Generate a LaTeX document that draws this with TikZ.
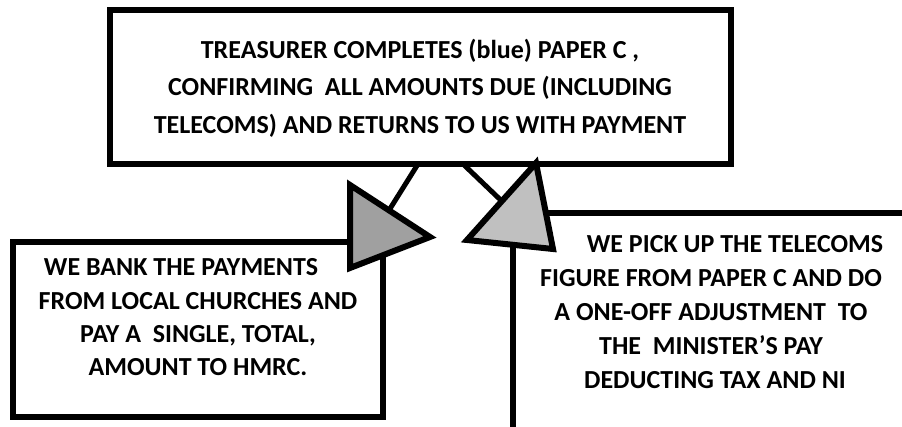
\documentclass[tikz,border=0pt]{standalone}
\usepackage{fontspec}
\setmainfont{Carlito}
\begin{document}
\begin{tikzpicture}[x=1pt,y=-1pt,
  boxline/.style={draw=black, line width=6.5pt, fill=white, inner sep=0pt, rectangle},
  link/.style={draw=black, line width=5pt},
  tri/.style={draw=black, line width=6pt, line join=miter},
  txt/.style={align=center, inner sep=0pt, font=\bfseries\fontsize{26}{#1}\selectfont}]
\useasboundingbox (0,0) rectangle (902,427);
\clip (0,0) rectangle (902,427);
% boxes
\node[boxline, minimum width=621pt, minimum height=154pt] (topbox) at (420.5,87) {};
\node[boxline, minimum width=370pt, minimum height=175pt] (leftbox) at (198,329.5) {};
\node[boxline, minimum width=437pt, minimum height=257pt] (rightbox) at (731.5,341.5) {};
% triangle centres and link ends
\coordinate (lc) at (376.7,230);
\coordinate (rc) at (518.7,217.3);
\coordinate (l0) at (418,164);
\coordinate (r0) at (463,164);
\draw[link] (l0) -- (lc);
\draw[link] (r0) -- (rc);
% triangles
\filldraw[tri, fill={rgb,255:red,160;green,160;blue,160}] (350,185) -- (430,237) -- (350,268) -- cycle;
\filldraw[tri, fill={rgb,255:red,192;green,192;blue,192}] (467,240) -- (536,163) -- (553,249) -- cycle;
% texts
\node[txt=37.5pt] (toptext) at (420,88) {TREASURER COMPLETES (blue) PAPER C ,\\CONFIRMING\ \ ALL AMOUNTS DUE (INCLUDING\\TELECOMS) AND RETURNS TO US WITH PAYMENT};
\node[txt=33.3pt] (lefttext) at (198,317.5) {WE BANK THE PAYMENTS\hspace*{34pt}\\FROM LOCAL CHURCHES AND\\PAY A\ \ SINGLE, TOTAL,\\AMOUNT TO HMRC.};
\node[txt=34pt] (righttext) at (711,312) {\hspace*{48pt}WE PICK UP THE TELECOMS\\FIGURE FROM PAPER C AND DO\\A ONE-OFF ADJUSTMENT\ \ TO\\THE\ \ MINISTER’S PAY\\\hspace*{8pt}DEDUCTING TAX AND NI};
\end{tikzpicture}
\end{document}
